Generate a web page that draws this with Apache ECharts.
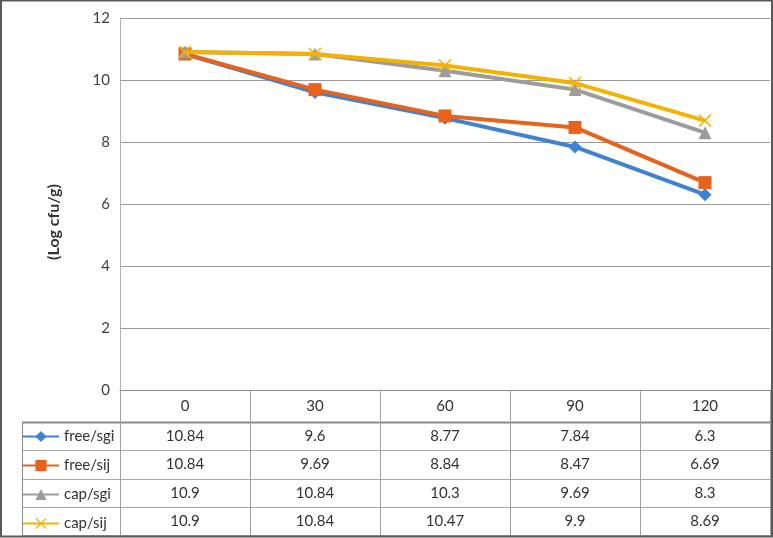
<!DOCTYPE html>
<html>
<head>
<meta charset="utf-8">
<script src="https://cdn.jsdelivr.net/npm/echarts@6/dist/echarts.min.js"></script>
<style>
html,body{margin:0;padding:0;background:#fff;}
#chart{width:773px;height:538px;}
</style>
</head>
<body>
<div id="chart"></div>
<script>
const categories = ['0', '30', '60', '90', '120'];
const seriesNames = ['free/sgi', 'free/sij', 'cap/sgi', 'cap/sij'];
const freeSgi = [10.84, 9.6, 8.77, 7.84, 6.3];
const freeSij = [10.84, 9.69, 8.84, 8.47, 6.69];
const capSgi = [10.9, 10.84, 10.3, 9.69, 8.3];
const capSij = [10.9, 10.84, 10.47, 9.9, 8.69];
const yAxisName = '(Log cfu/g)';

const seriesData = [freeSgi, freeSij, capSgi, capSij];
const colors = ['#3E82D0', '#E8621C', '#9C9C9C', '#F5B100'];
const crossPath = 'path://M0,0.8L0.8,0L5,4.2L9.2,0L10,0.8L5.8,5L10,9.2L9.2,10L5,5.8L0.8,10L0,9.2L4.2,5Z';
const symbols = ['diamond', 'rect', 'triangle', crossPath];
const symbolSizes = [13, 13, 13, 13];
const FONT = 'Lato, "Open Sans", sans-serif';

const chart = echarts.init(document.getElementById('chart'), null, {renderer: 'canvas'});

const G = {left: 120, right: 3, top: 18, bottom: 148};

chart.setOption({
  animation: false,
  color: colors,
  textStyle: {fontFamily: FONT},
  grid: {left: G.left, right: G.right, top: G.top, bottom: G.bottom, containLabel: false},
  legend: {
    orient: 'vertical',
    left: 22,
    top: 429,
    padding: 0,
    itemGap: 14,
    itemWidth: 36,
    itemHeight: 14,
    textStyle: {fontSize: 15, color: '#333', fontFamily: FONT},
    data: seriesNames
  },
  xAxis: {
    type: 'category',
    data: categories,
    boundaryGap: true,
    axisLine: {show: true, lineStyle: {color: '#8c8c8c', width: 1}},
    axisTick: {show: true, length: 145, lineStyle: {color: '#a0a0a0', width: 1}},
    axisLabel: {fontSize: 15, color: '#333', margin: 9, fontFamily: FONT},
    splitLine: {show: false}
  },
  yAxis: {
    type: 'value',
    min: 0,
    max: 12,
    interval: 2,
    name: yAxisName,
    nameLocation: 'middle',
    nameRotate: 90,
    nameGap: 58,
    nameTextStyle: {fontSize: 16, fontWeight: 'bold', color: '#333', fontFamily: FONT, padding: [0, 36, 0, 0]},
    axisLine: {show: true, lineStyle: {color: '#b0b0b0', width: 1}},
    axisTick: {show: false},
    axisLabel: {fontSize: 15, color: '#404040', margin: 10, fontFamily: FONT},
    splitLine: {show: true, lineStyle: {color: '#9a9a9a', width: 1}}
  },
  series: seriesNames.map((name, i) => ({
    name: name,
    type: 'line',
    data: seriesData[i],
    symbol: symbols[i],
    symbolSize: symbolSizes[i],
    showAllSymbol: true,
    lineStyle: {width: 4, color: colors[i]},
    itemStyle: {color: colors[i], borderWidth: 0},
    z: 2 + i
  }))
});

// Data table below the plot, aligned to the category axis
const rowTop = 422, rowH = 28.3, tableLeft = 22, tableRight = 770;
const graphics = [];
for (let r = 0; r <= seriesNames.length; r++) {
  const y = Math.round(rowTop + r * rowH) + 0.5;
  graphics.push({
    type: 'line', silent: true,
    shape: {x1: tableLeft, y1: y, x2: tableRight, y2: y},
    style: {stroke: r === 0 ? '#8a8a8a' : '#a8a8a8', lineWidth: r === 0 ? 2 : 1}
  });
}
graphics.push({
  type: 'line', silent: true,
  shape: {x1: tableLeft + 0.5, y1: rowTop, x2: tableLeft + 0.5, y2: Math.round(rowTop + seriesNames.length * rowH)},
  style: {stroke: '#8a8a8a', lineWidth: 1}
});
seriesData.forEach((arr, r) => {
  arr.forEach((v, c) => {
    const x = chart.convertToPixel({xAxisIndex: 0}, c);
    graphics.push({
      type: 'text', silent: true,
      x: x, y: rowTop + r * rowH + rowH / 2,
      style: {text: String(v), fontSize: 15, fill: '#333', fontFamily: FONT, align: 'center', verticalAlign: 'middle'}
    });
  });
});
// outer frame
graphics.push({
  type: 'rect', silent: true,
  shape: {x: 1, y: 0.5, width: 771, height: 536},
  style: {fill: 'none', stroke: '#5a5a5a', lineWidth: 2}
});
chart.setOption({graphic: graphics});
</script>
</body>
</html>
